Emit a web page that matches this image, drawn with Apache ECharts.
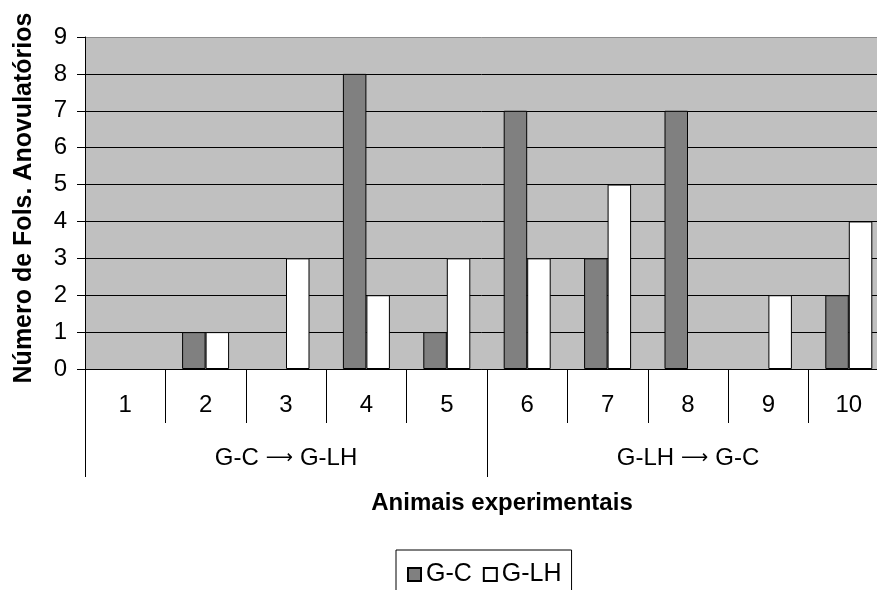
<!DOCTYPE html>
<html>
<head>
<meta charset="utf-8">
<script src="https://cdn.jsdelivr.net/npm/echarts@6/dist/echarts.min.js"></script>
<style>
  html, body { margin: 0; padding: 0; background: #fff; }
  #chart { width: 877px; height: 590px; }
</style>
</head>
<body>
<div id="chart"></div>
<script>
// Animals and the two treatment sequences they belong to
const animals = ['1', '2', '3', '4', '5', '6', '7', '8', '9', '10'];
const groups = [['G-C', 'G-LH'], ['G-LH', 'G-C']];

// Number of anovulatory follicles per animal
const seriesNames = ['G-C', 'G-LH'];
const valuesGC = [0, 1, 0, 8, 1, 7, 3, 7, 0, 2];
const valuesGLH = [0, 1, 3, 2, 3, 3, 5, 0, 2, 4];

const yTicks = { min: 0, max: 9, interval: 1 };

const FONT = '"Liberation Sans", Arial, sans-serif';
const FS = 24;

const chart = echarts.init(document.getElementById('chart'), null, { renderer: 'canvas' });

// Horizontal grid lines: black inside the plot, grey on the top border
const splitColors = [];
for (let v = yTicks.min; v <= yTicks.max; v += yTicks.interval) {
  splitColors.push(v === yTicks.max ? '#8c8c8c' : '#000000');
}

// Zero counts leave an empty slot (no outline drawn)
function barData(values) {
  return values.map(v => v === 0
    ? { value: 0, itemStyle: { borderWidth: 0, opacity: 0 } }
    : v);
}

// Group labels "from → to", arrow drawn in its own font
const groupLabels = groups.map(g => '{t|' + g[0] + '}{a|\u27F6}{t|' + g[1] + '}');

chart.setOption({
  animation: false,
  backgroundColor: '#ffffff',
  textStyle: { fontFamily: FONT, color: '#000' },
  grid: {
    left: 85,
    top: 37,
    width: 804,
    height: 332,
    outerBoundsMode: 'none',
    containLabel: false,
    show: true,
    backgroundColor: '#c0c0c0',
    borderWidth: 0
  },
  legend: {
    data: seriesNames,
    left: 396,
    top: 550,
    orient: 'horizontal',
    padding: [12, 10, 12, 11],
    itemWidth: 13,
    itemHeight: 13,
    itemGap: 11,
    icon: 'rect',
    borderColor: '#000',
    borderWidth: 1,
    textStyle: { fontFamily: FONT, fontSize: 25, color: '#000' }
  },
  xAxis: [
    {
      type: 'category',
      data: animals,
      position: 'bottom',
      boundaryGap: true,
      axisLine: { show: true, lineStyle: { color: '#000', width: 1 } },
      axisTick: { show: true, length: 54, lineStyle: { color: '#000', width: 1 } },
      axisLabel: { margin: 24, fontFamily: FONT, fontSize: FS, color: '#000' },
      splitLine: { show: false }
    },
    {
      type: 'category',
      data: groupLabels,
      position: 'bottom',
      offset: 0,
      boundaryGap: true,
      axisLine: { show: false },
      axisTick: { show: true, length: 108, lineStyle: { color: '#000', width: 1 } },
      axisLabel: {
        margin: 77,
        color: '#000',
        rich: {
          t: { fontFamily: FONT, fontSize: FS, color: '#000' },
          a: { fontFamily: '"DejaVu Sans", sans-serif', fontSize: 19, color: '#000', padding: [0, 7, 0, 7] }
        }
      },
      splitLine: { show: false }
    }
  ],
  yAxis: {
    type: 'value',
    min: yTicks.min,
    max: yTicks.max,
    interval: yTicks.interval,
    name: 'Número de Fols. Anovulatórios',
    nameLocation: 'middle',
    nameRotate: 90,
    nameGap: 48,
    nameTextStyle: { fontFamily: FONT, fontSize: 25, fontWeight: 'bold', color: '#000', padding: [0, 0, 0, 10] },
    axisLine: { show: true, lineStyle: { color: '#000', width: 1 } },
    axisTick: { show: true, length: 8, lineStyle: { color: '#000', width: 1 } },
    axisLabel: { margin: 18, fontFamily: FONT, fontSize: FS, color: '#000' },
    splitLine: { show: true, lineStyle: { color: splitColors, width: 1 } }
  },
  graphic: [
    {
      type: 'text',
      x: 502,
      y: 503,
      style: {
        text: 'Animais experimentais',
        font: 'bold ' + FS + 'px ' + FONT,
        fill: '#000',
        textAlign: 'center',
        textVerticalAlign: 'middle'
      }
    }
  ],
  series: [
    {
      name: seriesNames[0],
      type: 'bar',
      xAxisIndex: 0,
      data: barData(valuesGC),
      barWidth: 23.5,
      barGap: '0%',
      itemStyle: { color: '#808080', borderColor: '#000', borderWidth: 1 }
    },
    {
      name: seriesNames[1],
      type: 'bar',
      xAxisIndex: 0,
      data: barData(valuesGLH),
      barWidth: 23.5,
      barGap: '0%',
      itemStyle: { color: '#ffffff', borderColor: '#000', borderWidth: 1 }
    }
  ]
});
</script>
</body>
</html>
